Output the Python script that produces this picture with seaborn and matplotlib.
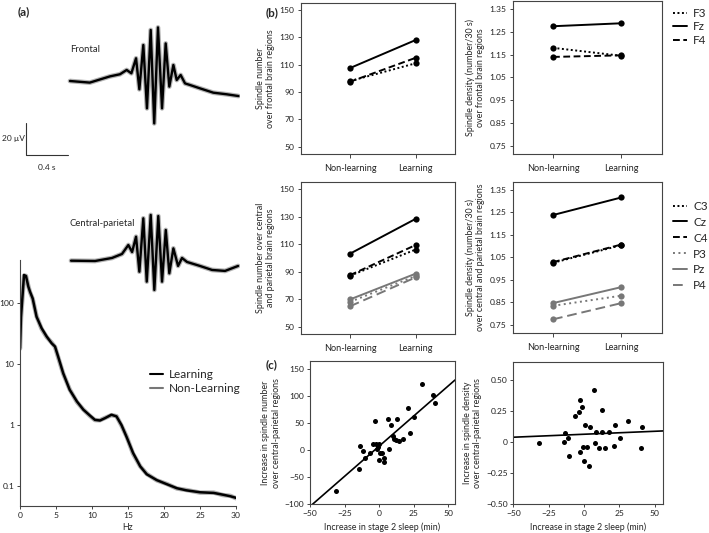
import numpy as np
import pandas as pd
import matplotlib
matplotlib.use("Agg")
import matplotlib.pyplot as plt
from matplotlib.lines import Line2D
import seaborn as sns

# ---- data ----
# (a) average spindle waveforms (s, uV)
t_frontal = [0, 0.19, 0.385, 0.48, 0.545, 0.59, 0.635, 0.667, 0.705, 0.74, 0.776, 0.81,
             0.846, 0.885, 0.92, 0.955, 0.994, 1.026, 1.064, 1.106, 1.154, 1.25, 1.378, 1.506, 1.62]
v_frontal = [0, -1.0, 2.9, 4.2, 6.9, 4.8, 14.2, -5.2, 22.5, -17.1, 31.9, -26.5,
             33.5, -17.1, 23.5, -3.5, 10, 0.6, 3.75, -1.5, -2.5, -4.6, -7.3, -8.3, -9.4]
t_central = [0.01, 0.241, 0.404, 0.5, 0.561, 0.597, 0.635, 0.667, 0.705, 0.738, 0.776, 0.811,
             0.849, 0.885, 0.921, 0.955, 0.994, 1.039, 1.077, 1.125, 1.25, 1.366, 1.491, 1.616]
v_central = [0, -0.2, 1.7, 4.2, 9.8, 5.4, 15, -6.9, 26.5, -13.1, 28.6, -18.3,
             27.9, -13.1, 19.2, -7.9, 7.7, -3.3, 1.7, -0.8, -3.3, -5.8, -6.4, -3.3]

# (a) power spectrum
freq = [0, 0.14, 0.56, 0.83, 1.16, 1.39, 1.76, 2.3, 3.0, 3.7, 4.4, 4.86, 5.3, 6.0, 6.9, 7.9,
        8.8, 9.7, 10.4, 11.1, 11.8, 12.7, 13.4, 14.1, 14.8, 15.7, 16.7, 17.6, 19.0, 20.4,
        21.8, 23.1, 25.0, 26.9, 28.2, 29.2, 30.0]
psd_learning = [18.3, 60, 291, 280, 187, 155, 120, 60, 39, 28.5, 22, 19.5, 13.3, 7.1, 3.8, 2.45,
                1.79, 1.44, 1.22, 1.19, 1.30, 1.48, 1.39, 1.0, 0.64, 0.35, 0.21, 0.156, 0.125,
                0.107, 0.092, 0.085, 0.079, 0.077, 0.072, 0.068, 0.064]
psd_nonlearning = [18.0, 58, 285, 282, 190, 152, 118, 61, 38, 28, 22.5, 19.2, 13.0, 7.0, 3.85, 2.4,
                   1.8, 1.42, 1.21, 1.2, 1.31, 1.46, 1.40, 0.98, 0.65, 0.34, 0.21, 0.158, 0.124,
                   0.108, 0.091, 0.086, 0.078, 0.078, 0.071, 0.069, 0.063]

# (b) spindle number / density by condition
conditions = ["Non-learning", "Learning"]
frontal_names = ["F3", "Fz", "F4"]
frontal_number = {"F3": [98, 111], "Fz": [107.5, 128], "F4": [97.5, 115]}
frontal_density = {"F3": [1.18, 1.145], "Fz": [1.275, 1.288], "F4": [1.14, 1.147]}
cp_names = ["C3", "Cz", "C4", "P3", "Pz", "P4"]
cp_number = {"C3": [87, 106], "Cz": [103, 128.3], "C4": [87.4, 109.3],
             "P3": [68, 86.8], "Pz": [69.8, 88.5], "P4": [64.8, 85.8]}
cp_density = {"C3": [1.026, 1.104], "Cz": [1.238, 1.316], "C4": [1.029, 1.107],
              "P3": [0.835, 0.88], "Pz": [0.847, 0.918], "P4": [0.775, 0.847]}

# (c) change vs. change in stage 2 sleep
num_x = [-31, -14.3, -13.8, -11.4, -10.1, -6.5, -4.1, -2.9, -2.2, -1.0, -1.2, 0.2, 0.2, 0.7,
         2.0, 3.9, 3.9, 6.8, 7.5, 8.5, 9.9, 10.8, 12.3, 12.8, 14.7, 17.6, 20.8, 22.5, 25.6,
         30.9, 39.3, 40.6]
num_y = [-75, -34, 7.4, -1.9, -14, -4.3, 11, 53.7, 12.3, 6.2, 3, 12.3, -18.5, -6,
         -5, -14, -21.6, 57, 1.5, 47.5, 26, 21, 19.8, 57.4, 16.7, 20.8, 79, 32.5, 61.7,
         122, 103, 88]
dens_x = [-31.6, -14.5, -13.8, -11.4, -10.3, -6.2, -3.9, -2.7, -2.7, -1.1, -0.4, 0.4, 0.1,
          2.3, 3.7, 4.4, 6.7, 7.4, 8.4, 10.8, 12.4, 12.7, 15.0, 17.9, 21.2, 22.1, 25.7,
          30.9, 39.9, 40.8]
dens_y = [-0.01, 0.0, 0.07, 0.03, -0.11, 0.21, 0.24, 0.34, -0.08, 0.28, -0.04, 0.14, -0.15,
          -0.04, -0.19, 0.12, 0.42, -0.01, 0.08, -0.05, 0.08, 0.26, -0.05, 0.08, -0.03, 0.14,
          0.03, 0.17, -0.05, 0.12]

# ---- style ----
sns.set_theme(style="ticks")
plt.rcParams["font.family"] = ["Lato", "DejaVu Sans"]
plt.rcParams["axes.edgecolor"] = "#444444"
plt.rcParams["xtick.color"] = "#444444"
plt.rcParams["ytick.color"] = "#444444"
plt.rcParams["xtick.labelcolor"] = "#222222"
plt.rcParams["ytick.labelcolor"] = "#222222"
plt.rcParams["axes.linewidth"] = 0.8
TICK = 6.1
LAB = 6.4
GRAY = "#777777"

styles = {
    "F3": ("black", (1, 1.3)), "Fz": ("black", ""), "F4": ("black", (3.5, 1.8)),
    "C3": ("black", (1, 1.3)), "Cz": ("black", ""), "C4": ("black", (3.5, 1.8)),
    "P3": (GRAY, (1, 1.8)), "Pz": (GRAY, ""), "P4": (GRAY, (5, 2.5)),
}

W, H = 709, 533
fig = plt.figure(figsize=(W / 100, H / 100), dpi=100)


def px_axes(left, top, right, bottom):
    return fig.add_axes([left / W, 1 - bottom / H, (right - left) / W, (bottom - top) / H])


# ---- (a) spectrum ----
ax_s = px_axes(20, 260, 236, 506)
sns.lineplot(x=freq, y=psd_nonlearning, ax=ax_s, color=GRAY, lw=3.2, alpha=0.6)
sns.lineplot(x=freq, y=psd_learning, ax=ax_s, color="black", lw=1.8)
ax_s.set_yscale("log")
ax_s.set_xlim(0, 30)
ax_s.set_ylim(0.047, 513)
ax_s.set_xticks([0, 5, 10, 15, 20, 25, 30])
ax_s.set_yticks([0.1, 1, 10, 100])
ax_s.set_yticklabels(["0.1", "1", "10", "100"])
ax_s.minorticks_off()
ax_s.tick_params(labelsize=TICK, length=2.5, width=0.7, pad=1.5)
ax_s.set_xlabel("Hz", fontsize=LAB, labelpad=3)
sns.despine(ax=ax_s)
ax_s.legend(handles=[Line2D([], [], color="black", lw=1.5, label="Learning"),
                     Line2D([], [], color=GRAY, lw=1.5, label="Non-Learning")],
            loc="center left", bbox_to_anchor=(0.6, 0.506), frameon=False,
            fontsize=8.5, handlelength=1.1, handletextpad=0.5, labelspacing=0.25,
            borderpad=0, borderaxespad=0)

# ---- (a) waveforms ----
ax_w = px_axes(0, 0, 240, 300)
ax_w.patch.set_alpha(0)
ax_w.set_axis_off()
ax_w.set_xlim(-70 / 104, 170 / 104)
ax_w.set_ylim(-300 / 1.6 + 81 / 1.6, 81 / 1.6)
cp_offset = -112.3
v_central_shift = [v + cp_offset for v in v_central]
for tt, vv in [(t_frontal, v_frontal), (t_central, v_central_shift)]:
    ax_w.plot(tt, vv, color=GRAY, lw=3.4, alpha=0.55, solid_joinstyle="round")
    ax_w.plot(tt, vv, color="black", lw=1.7, solid_joinstyle="round")
ax_w.text(0, 20, "Frontal", fontsize=6.8, va="center", ha="left")
ax_w.text(0, 20 + cp_offset + 3, "Central-parietal", fontsize=6.8, va="center", ha="left")
# scale bar 20 uV / 0.4 s
sb_t, sb_v = -0.423, -46.25
ax_w.plot([sb_t, sb_t, sb_t + 0.4], [sb_v + 20, sb_v, sb_v], color="#333333", lw=0.8)
ax_w.text(-0.655, sb_v + 10, "20 µV", fontsize=6, ha="left", va="center")
ax_w.text(sb_t + 0.2, sb_v - 8, "0.4 s", fontsize=6, ha="center", va="center")


# ---- (b) line panels ----
def cond_panel(ax, values, names, xlim, ylim, yticks, fmt):
    df = pd.DataFrame([(n, i, values[n][i]) for n in names for i in range(2)],
                      columns=["electrode", "cond", "value"])
    sns.lineplot(data=df, x="cond", y="value", hue="electrode", style="electrode",
                 palette={n: styles[n][0] for n in names},
                 dashes={n: styles[n][1] for n in names},
                 markers={n: "o" for n in names}, markersize=4.5, markeredgewidth=0,
                 lw=1.4, legend=False, ax=ax)
    ax.set_xlim(*xlim)
    ax.set_ylim(*ylim)
    ax.set_xticks([0, 1])
    ax.set_xticklabels(conditions)
    ax.set_yticks(yticks)
    ax.set_yticklabels([fmt.format(v) for v in yticks])
    ax.set_xlabel("")
    ax.tick_params(axis="x", labelsize=6.6, length=3, width=0.7, pad=4)
    ax.tick_params(axis="y", labelsize=TICK, length=2.5, width=0.7, pad=2)


def cond_legend(ax, names, y_top, spacing):
    handles = [Line2D([], [], color=styles[n][0], lw=1.4,
                      dashes=styles[n][1] if styles[n][1] else (None, None),
                      linestyle="-", label=n) for n in names]
    ax.legend(handles=handles, loc="upper left", bbox_to_anchor=(1.072, y_top),
              frameon=False, fontsize=8.5, handlelength=1.2, handletextpad=0.5,
              labelspacing=spacing, borderpad=0, borderaxespad=0)


ax1 = px_axes(300.7, 2.7, 455, 154)
cond_panel(ax1, frontal_number, frontal_names, (-0.75, 1.6), (44.7, 155.3),
           [50, 70, 90, 110, 130, 150], "{:.0f}")
ax1.set_ylabel("Spindle number\nover frontal brain regions", fontsize=LAB, labelpad=3)

ax2 = px_axes(512.7, 1, 662.3, 154)
cond_panel(ax2, frontal_density, frontal_names, (-0.59, 1.6), (0.713, 1.386),
           [0.75, 0.85, 0.95, 1.05, 1.15, 1.25, 1.35], "{:.2f}")
ax2.set_ylabel("Spindle density (number/30 s)\nover frontal brain regions", fontsize=LAB, labelpad=3)
cond_legend(ax2, frontal_names, 0.955, 0.22)

ax3 = px_axes(300.7, 181.7, 455, 334)
cond_panel(ax3, cp_number, cp_names, (-0.75, 1.6), (44.7, 155.3),
           [50, 70, 90, 110, 130, 150], "{:.0f}")
ax3.set_ylabel("Spindle number over central\nand parietal brain regions", fontsize=LAB, labelpad=3)

ax4 = px_axes(512.7, 181.7, 662.3, 333.3)
cond_panel(ax4, cp_density, cp_names, (-0.59, 1.6), (0.713, 1.386),
           [0.75, 0.85, 0.95, 1.05, 1.15, 1.25, 1.35], "{:.2f}")
ax4.set_ylabel("Spindle density (number/30 s)\nover central and parietal brain regions",
               fontsize=LAB, labelpad=3)
cond_legend(ax4, cp_names, 0.875, 0.42)


# ---- (c) scatter panels ----
def scatter_panel(ax, x, y, xlim, ylim, yticks, ylabels):
    ax.set_xlim(*xlim)
    ax.set_ylim(*ylim)
    sns.regplot(x=x, y=y, ax=ax, ci=None, truncate=False,
                scatter_kws=dict(s=13, color="black", linewidths=0, alpha=1),
                line_kws=dict(color="black", lw=1.2))
    ax.set_xlim(*xlim)
    ax.set_ylim(*ylim)
    ax.set_xticks([-50, -25, 0, 25, 50])
    ax.set_yticks(yticks)
    ax.set_yticklabels(ylabels)
    ax.tick_params(labelsize=TICK, length=2.5, width=0.7, pad=1.5)
    ax.set_xlabel("Increase in stage 2 sleep (min)", fontsize=LAB, labelpad=4)


ax5 = px_axes(310, 361, 455, 504.3)
scatter_panel(ax5, num_x, num_y, (-50, 55), (-100, 165),
              [-100, -50, 0, 50, 100, 150], ["−100", "−50", "0", "50", "100", "150"])
ax5.set_ylabel("Increase in spindle number\nover central-parietal regions", fontsize=LAB, labelpad=3)

ax6 = px_axes(513.3, 361.7, 663.3, 504)
scatter_panel(ax6, dens_x, dens_y, (-50, 56), (-0.5, 0.65),
              [-0.5, -0.25, 0, 0.25, 0.5], ["−0.50", "−0.25", "0", "0.25", "0.50"])
ax6.set_ylabel("Increase in spindle density\nover central-parietal regions", fontsize=LAB, labelpad=3)

# panel letters
fig.text(18 / W, 1 - 12 / H, "(a)", fontsize=8.5, fontweight="bold", va="center", ha="left")
fig.text(266 / W, 1 - 13 / H, "(b)", fontsize=8.5, fontweight="bold", va="center", ha="left")
fig.text(266 / W, 1 - 365 / H, "(c)", fontsize=8.5, fontweight="bold", va="center", ha="left")

fig.savefig("out.png", dpi=100)
